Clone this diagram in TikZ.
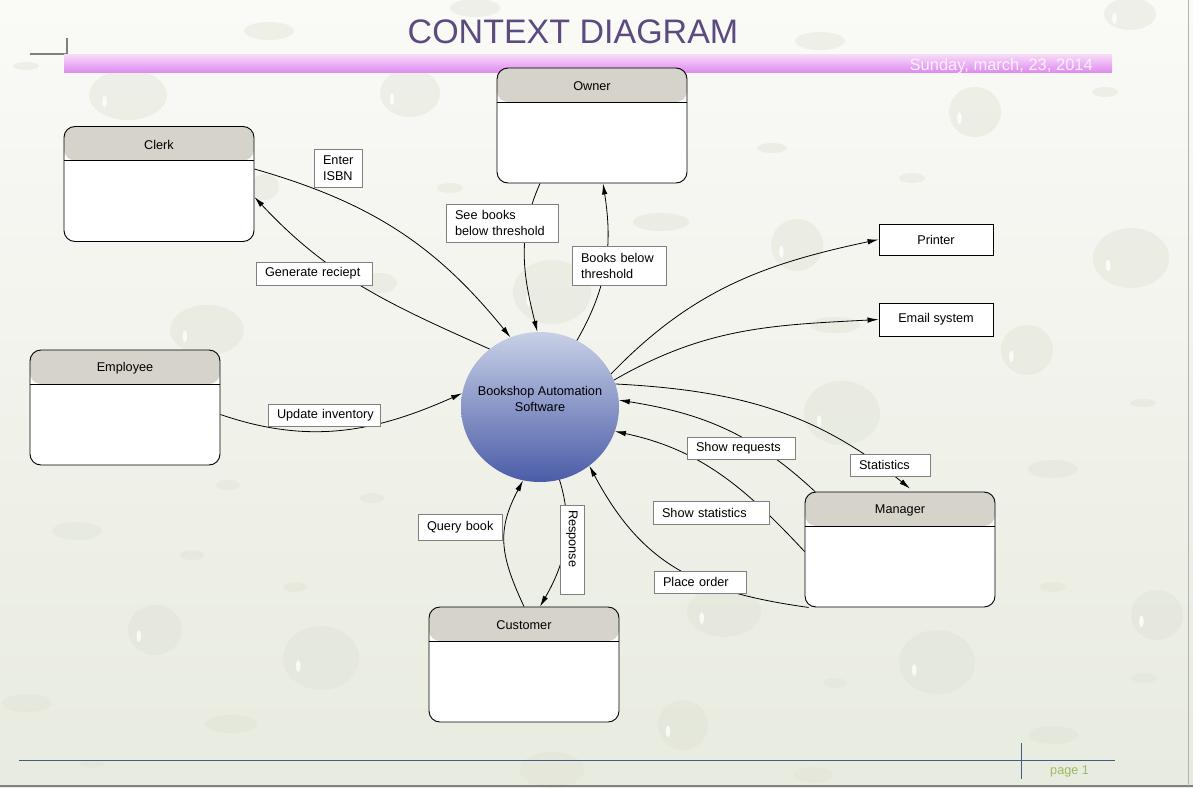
\documentclass[tikz,border=0pt]{standalone}
\usepackage{fontspec}
\setmainfont{Liberation Sans}
\usetikzlibrary{arrows.meta,shapes.geometric}

\definecolor{bgtop}{HTML}{FAFAF7}
\definecolor{bgbot}{HTML}{E8EBDF}
\definecolor{hdr}{HTML}{D6D3CB}
\definecolor{titlec}{HTML}{5C4A80}
\definecolor{bartop}{HTML}{F7DCF7}
\definecolor{barbot}{HTML}{E08CF0}
\definecolor{ctop}{HTML}{C8D0E6}
\definecolor{cbot}{HTML}{4B5CA8}
\definecolor{foot}{HTML}{3D5F84}
\definecolor{pagec}{HTML}{9DBB63}
\definecolor{lblborder}{HTML}{808080}
\definecolor{drop}{HTML}{DFE2D4}
\definecolor{datec}{HTML}{FCF0FC}

\newcommand\wdrop[4]{\fill[drop, opacity=0.42] (#1,#2) ellipse [x radius=#3pt, y radius=#4pt];}
\newcommand\bigdrop[4]{\wdrop{#1}{#2}{#3}{#4}\fill[white, opacity=0.8] ({#1-0.6*#3},{#2+0.25*#4}) ellipse [x radius=2.2pt, y radius=6pt];}

\begin{document}
\begin{tikzpicture}[x=1pt,y=-1pt,
  every node/.style={font=\fontsize{12.7}{16}\selectfont},
  entity/.style={draw=black, line width=0.9pt, rounded corners=11pt, fill=white,
    minimum width=190pt, minimum height=115pt, inner sep=0pt,
    path picture={
      \fill[hdr] (path picture bounding box.north west) rectangle ([yshift=-34pt]path picture bounding box.north east);
      \draw[line width=0.9pt] ([yshift=-34pt]path picture bounding box.north west) -- ([yshift=-34pt]path picture bounding box.north east);
    },
    label={[anchor=center, yshift=-18.5pt]north:#1}},
  extbox/.style={draw=black, line width=0.9pt, fill=white, minimum width=114pt, inner sep=0pt},
  lbl/.style={draw=lblborder, line width=0.9pt, fill=white, inner xsep=9pt, inner ysep=2pt, align=left},
  flow/.style={draw=black, line width=0.8pt, -{Latex[length=11pt,width=5.5pt]}}
]
% background
\shade[top color=bgtop, bottom color=bgbot] (0,0) rectangle (1193,787);
\useasboundingbox (0,0) rectangle (1193,787);

% droplets
\bigdrop{128}{95}{39}{25}
\wdrop{269}{31}{25}{9}
\wdrop{26}{66}{13}{4}
\bigdrop{975}{112}{26}{25}
\bigdrop{1131}{258}{38}{30}
\bigdrop{1130}{14}{26}{16}
\wdrop{820}{41}{25}{9}
\wdrop{1105}{92}{13}{5}
\wdrop{912}{178}{13}{5}
\bigdrop{207}{330}{37}{25}
\bigdrop{1027}{350}{26}{25}
\bigdrop{842}{413}{38}{32}
\wdrop{1143}{403}{13}{4}
\wdrop{1053}{469}{25}{9}
\wdrop{77}{531}{25}{9}
\wdrop{192}{555}{12}{5}
\wdrop{295}{587}{12}{5}
\bigdrop{155}{630}{27}{25}
\bigdrop{321}{658}{38}{32}
\wdrop{27}{703}{25}{9}
\wdrop{231}{724}{26}{9}
\wdrop{92}{764}{12}{4}
\bigdrop{724}{612}{37}{25}
\bigdrop{683}{725}{25}{25}
\wdrop{552}{770}{32}{18}
\bigdrop{937}{662}{38}{32}
\wdrop{1053}{587}{13}{5}
\bigdrop{1157}{615}{26}{25}
\wdrop{835}{683}{12}{5}
\wdrop{1144}{678}{13}{5}
\wdrop{1053}{735}{25}{9}
\wdrop{813}{775}{20}{8}
\bigdrop{552}{292}{39}{32}
\bigdrop{410}{93}{30}{24}
\wdrop{661}{222}{28}{9}
\wdrop{772}{148}{15}{5}
\bigdrop{797}{245}{26}{26}
\wdrop{475}{8}{25}{9}
\wdrop{265}{187}{14}{13}
\wdrop{450}{188}{13}{5}
\wdrop{380}{283}{17}{10}
\wdrop{228}{485}{12}{5}
\wdrop{372}{498}{12}{5}
\wdrop{835}{325}{25}{8}

% window borders
\draw[line width=1.5pt, gray] (0,786) -- (1193,786);
\draw[line width=1pt, gray!60] (1188.5,0) -- (1188.5,786);

% header
\draw[line width=2pt, gray] (30,54) -- (67,54) -- (67,38);
\shade[top color=bartop, bottom color=barbot] (64,54) rectangle (1112,72);
\node[font=\fontsize{34}{40}\selectfont, text=titlec, inner sep=0pt] (title) at (573,32) {CONTEXT DIAGRAM};
\node[font=\fontsize{16.5}{20}\selectfont, text=datec, inner sep=0pt, anchor=base east] (date) at (1093,70) {Sunday, march, 23, 2014};

% footer
\draw[foot, line width=1pt] (19,760) -- (1115,760);
\draw[foot, line width=1pt] (1021,743) -- (1021,779);
\node[text=pagec, inner sep=0pt, anchor=base west] (page) at (1050,774) {page 1};

% entities
\node[entity=Owner] (owner) at (592,125.5) {};
\node[entity=Clerk] (clerk) at (159,184) {};
\node[entity=Employee] (employee) at (125,407.5) {};
\node[entity=Manager] (manager) at (900,549.5) {};
\node[entity=Customer] (customer) at (524,664.5) {};
\node[extbox, minimum height=31pt] (printer) at (936,239.5) {Printer};
\node[extbox, minimum height=33pt] (email) at (936,319.5) {Email system};

% process
\node[ellipse, minimum width=158pt, minimum height=150pt, inner sep=0pt,
      top color=ctop, bottom color=cbot, draw=none,
      label={[align=center, anchor=center, yshift=8pt]center:Bookshop Automation\\Software}] (core) at (540,407) {};

% flows
\draw[flow] ([yshift=15pt]clerk.east) to[out=-16,in=129] (core.113);
\draw[flow] (core.131) to[out=156,in=-47] ([yshift=-13pt]clerk.east);
\draw[flow] ([xshift=-52pt]owner.south) to[out=-114,in=104] (core.92);
\draw[flow] (core.61) to[out=60,in=-81] ([xshift=11pt]owner.south);
\draw[flow] (core.25) to[out=46,in=192] (printer.west);
\draw[flow] (core.20) to[out=30,in=183] (email.west);
\draw[flow] (core.17) to[out=-3,in=141] ([xshift=10pt,yshift=3pt]manager.north);
\draw[flow] ([xshift=-85pt]manager.north) to[out=137,in=-9] (core.5);
\draw[flow] ([yshift=-2pt]manager.west) to[out=133,in=-12] (core.-18);
\draw[flow] ([xshift=4pt]manager.south west) to[out=172,in=-62,looseness=1.1] (core.-50);
\draw[flow] ([yshift=-7pt]employee.east) to[out=-19,in=-156] (core.170);
\draw[flow] (customer.north) to[out=115,in=-118,looseness=1.15] (core.-103);
\draw[flow] (core.-75) to[out=-73,in=60] ([xshift=16pt]customer.north);

% flow labels
\node[lbl, text width=30pt, minimum height=38pt] (lisbn) at (338,168) {\mbox{Enter}\\\mbox{ISBN}};
\node[lbl, text width=98pt, minimum height=23pt] (lreceipt) at (314,273.5) {\mbox{Generate reciept}};
\node[lbl, text width=94pt, minimum height=38pt] (lsee) at (502,223) {\mbox{See books}\\\mbox{below threshold}};
\node[lbl, text width=76pt, minimum height=39pt] (lbelow) at (619,265.5) {\mbox{Books below}\\\mbox{threshold}};
\node[lbl, text width=94pt, minimum height=22pt] (lupdate) at (324,415) {\mbox{Update inventory}};
\node[lbl, text width=90pt, minimum height=22pt] (lreq) at (741,448) {\mbox{Show requests}};
\node[lbl, text width=62pt, minimum height=22pt] (lstat) at (890,465) {\mbox{Statistics}};
\node[lbl, text width=98pt, minimum height=23pt] (lshowstat) at (711,512.5) {\mbox{Show statistics}};
\node[lbl, text width=66pt, minimum height=26pt] (lquery) at (460,527) {\mbox{Query book}};
\node[lbl, text width=74pt, minimum height=22pt] (lorder) at (700,582) {\mbox{Place order}};
\node[lbl, rotate=-90, inner xsep=5pt, text width=79pt, minimum height=24pt] (lresp) at (572,549.5) {\mbox{Response}};
\end{tikzpicture}
\end{document}
